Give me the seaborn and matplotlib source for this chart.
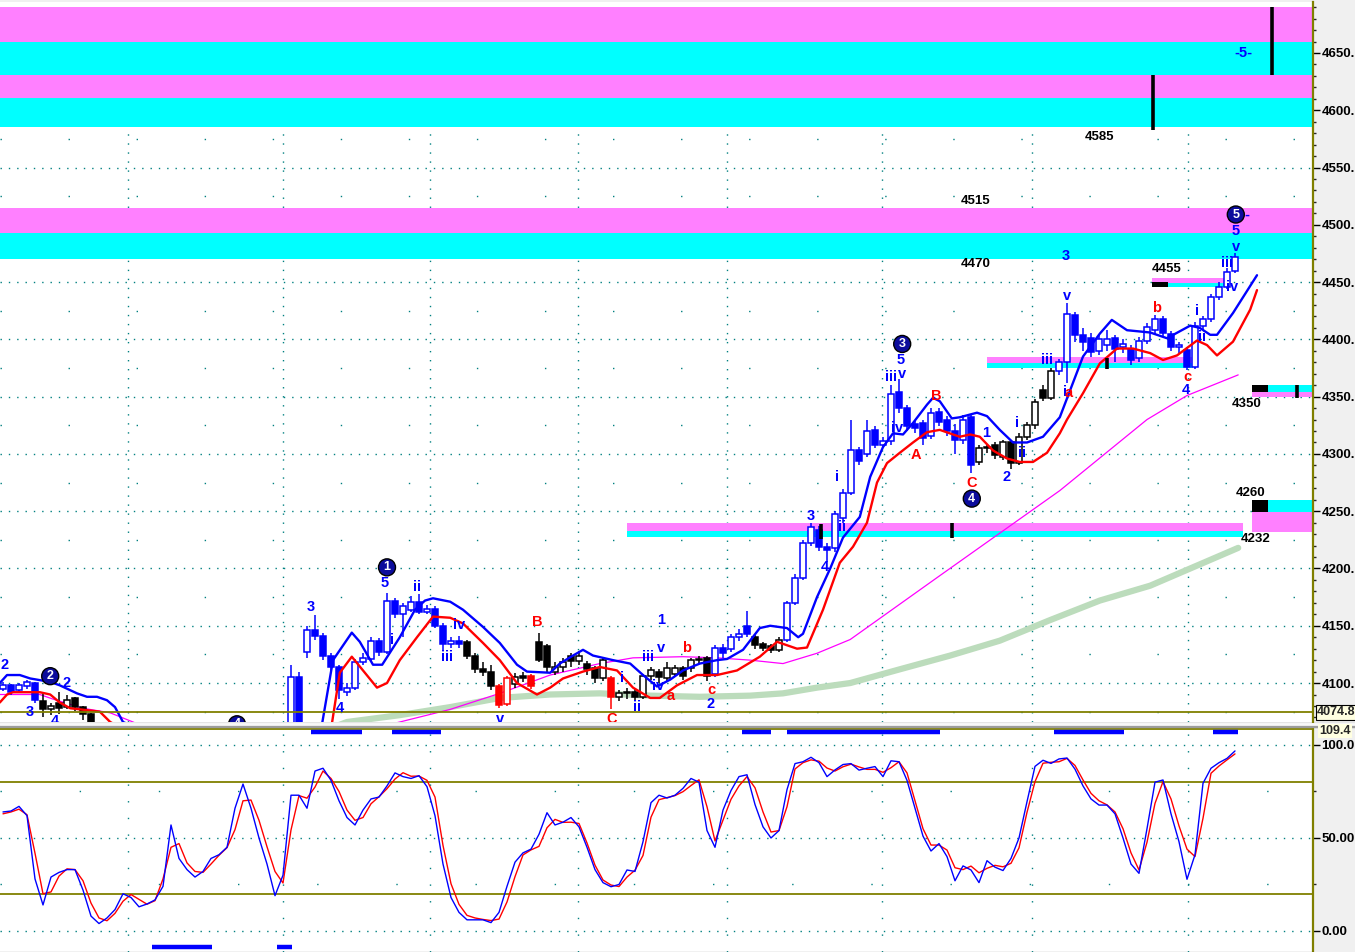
import numpy as np
import pandas as pd
import matplotlib
matplotlib.use("Agg")
import matplotlib.pyplot as plt
import seaborn as sns
from matplotlib.lines import Line2D
from matplotlib.patches import Rectangle

# ---------------- data ----------------
opens = [4095, 4098, 4094, 4097, 4100, 4084, 4077, 4083, 4079, 4087,
         4079, 4073, 4058, 4050, 4044, 4047, 4052, 4046, 4042, 4045,
         4043, 4050, 4056, 4048, 4045, 4044, 4047, 4050, 4051, 4054,
         4059, 4060, 4054, 4050, 4044, 4040, 4052, 4105, 4127, 4146,
         4141, 4124, 4114, 4092, 4096, 4118, 4121, 4137, 4127, 4172,
         4160, 4164, 4171, 4162, 4165, 4150, 4134, 4137, 4136, 4124,
         4112, 4110, 4097, 4082, 4099, 4106, 4106, 4136, 4132, 4110,
         4114, 4124, 4119, 4117, 4113, 4104, 4104, 4088, 4091, 4092,
         4088, 4106, 4110, 4104, 4108, 4113, 4113, 4120, 4122, 4108,
         4131, 4130, 4140, 4150, 4140, 4134, 4132, 4129, 4138, 4170,
         4192, 4222, 4234, 4219, 4218, 4244, 4266, 4303, 4300, 4321,
         4308, 4311, 4354, 4340, 4326, 4327, 4316, 4337, 4330, 4320,
         4312, 4332, 4293, 4305, 4308, 4297, 4310, 4292, 4315, 4325,
         4356, 4349, 4372, 4380, 4421, 4404, 4401, 4390, 4395, 4401,
         4393, 4392, 4384, 4399, 4408, 4418, 4405, 4393, 4391, 4376,
         4412, 4418, 4437, 4446, 4460]
closes = [4098, 4092, 4098, 4101, 4085, 4077, 4080, 4078, 4085, 4079,
          4073, 4066, 4050, 4044, 4047, 4052, 4046, 4042, 4045, 4043,
          4050, 4056, 4048, 4045, 4044, 4047, 4050, 4051, 4054, 4059,
          4060, 4054, 4050, 4044, 4040, 4052, 4105, 4065, 4146, 4141,
          4124, 4114, 4094, 4096, 4118, 4122, 4137, 4127, 4172, 4160,
          4167, 4171, 4162, 4165, 4150, 4134, 4137, 4134, 4124, 4112,
          4110, 4097, 4081, 4104, 4105, 4104, 4097, 4120, 4114, 4114,
          4118, 4119, 4124, 4112, 4104, 4120, 4088, 4091, 4092, 4088,
          4106, 4111, 4105, 4113, 4113, 4106, 4120, 4121, 4106, 4131,
          4126, 4140, 4143, 4143, 4133, 4131, 4129, 4138, 4170, 4192,
          4222, 4236, 4219, 4216, 4248, 4266, 4303, 4294, 4320, 4308,
          4311, 4352, 4340, 4324, 4323, 4314, 4336, 4328, 4320, 4312,
          4330, 4290, 4305, 4306, 4299, 4310, 4292, 4315, 4325, 4345,
          4349, 4372, 4380, 4422, 4404, 4398, 4389, 4400, 4400, 4392,
          4396, 4382, 4399, 4411, 4418, 4406, 4393, 4395, 4376, 4412,
          4418, 4437, 4446, 4459, 4472]
highs = [4101, 4099, 4100, 4103, 4101, 4092, 4083, 4092, 4090, 4088,
         4080, 4074, 4060, 4052, 4049, 4054, 4053, 4048, 4047, 4047,
         4052, 4058, 4057, 4050, 4047, 4049, 4052, 4053, 4056, 4061,
         4062, 4061, 4055, 4051, 4046, 4054, 4116, 4110, 4150, 4159,
         4144, 4126, 4116, 4100, 4121, 4126, 4140, 4139, 4179, 4174,
         4170, 4176, 4178, 4168, 4167, 4152, 4140, 4141, 4138, 4126,
         4118, 4116, 4099, 4106, 4109, 4110, 4108, 4144, 4134, 4118,
         4122, 4126, 4128, 4119, 4115, 4122, 4106, 4094, 4096, 4095,
         4108, 4114, 4112, 4118, 4116, 4115, 4122, 4124, 4124, 4133,
         4134, 4143, 4147, 4163, 4142, 4136, 4134, 4140, 4172, 4195,
         4225, 4240, 4237, 4222, 4250, 4269, 4330, 4306, 4330, 4324,
         4315, 4360, 4365, 4343, 4330, 4330, 4340, 4340, 4333, 4326,
         4334, 4334, 4308, 4309, 4310, 4312, 4312, 4318, 4328, 4348,
         4360, 4375, 4383, 4432, 4424, 4410, 4406, 4405, 4408, 4404,
         4400, 4395, 4402, 4414, 4421, 4420, 4407, 4398, 4393, 4415,
         4420, 4440, 4450, 4462, 4475]
lows = [4093, 4090, 4092, 4095, 4083, 4070, 4072, 4073, 4077, 4076,
        4068, 4060, 4047, 4041, 4042, 4045, 4044, 4039, 4040, 4041,
        4042, 4048, 4046, 4043, 4041, 4042, 4045, 4048, 4049, 4052,
        4056, 4052, 4047, 4041, 4036, 4038, 4050, 4060, 4122, 4138,
        4120, 4110, 4086, 4089, 4094, 4116, 4119, 4124, 4125, 4157,
        4140, 4162, 4160, 4160, 4148, 4128, 4131, 4131, 4121, 4109,
        4106, 4094, 4078, 4080, 4096, 4101, 4095, 4118, 4110, 4107,
        4110, 4114, 4116, 4107, 4100, 4102, 4077, 4084, 4086, 4085,
        4086, 4103, 4100, 4101, 4105, 4103, 4110, 4117, 4102, 4105,
        4122, 4127, 4137, 4140, 4130, 4128, 4126, 4127, 4136, 4168,
        4190, 4220, 4215, 4206, 4214, 4240, 4264, 4290, 4297, 4305,
        4305, 4308, 4336, 4320, 4318, 4308, 4313, 4324, 4316, 4300,
        4309, 4283, 4290, 4301, 4296, 4295, 4287, 4290, 4312, 4322,
        4346, 4347, 4369, 4362, 4398, 4390, 4385, 4386, 4390, 4380,
        4388, 4378, 4380, 4396, 4405, 4403, 4390, 4388, 4373, 4374,
        4408, 4415, 4434, 4444, 4458]

# wave-degree colour runs (first bar, last bar, degree)
colour_runs = [(0, 4, 'b'), (5, 35, 'k'), (36, 57, 'b'), (58, 61, 'k'), (62, 63, 'r'),
               (64, 65, 'k'), (66, 66, 'r'), (67, 75, 'k'), (76, 76, 'r'), (77, 88, 'k'),
               (89, 93, 'b'), (94, 97, 'k'), (98, 121, 'b'), (122, 131, 'k'), (132, 154, 'b')]

# moving averages (bar position, value)
ma_fast_t = [-0.4, 0.5, 2.1, 3.4, 5.9, 7.1, 9.25, 10.5, 11.75, 13, 14, 15, 19.6, 24.6, 30, 35, 38.4,
             39.9, 41.25, 43.6, 44.6, 46.25, 47.4, 49.6, 51.5, 52.75, 53.75, 55.9, 57.5, 60, 62.1,
             64.25, 65.5, 68.4, 69.6, 71.25, 72.5, 73.75, 76.25, 78.4, 80, 81.75, 83.4, 85, 87.1,
             89.25, 90.5, 92.5, 94.6, 95.9, 98, 99.4, 100, 101.75, 103.4, 105, 107.1, 108.4, 110,
             111.25, 112.5, 113.75, 115.5, 116.25, 117.1, 118.6, 119.6, 121.75, 123, 124.6, 126.25,
             128, 130, 132.1, 135, 137.1, 138.6, 140.5, 143.4, 145.5, 148.4, 149.6, 150.9, 151.75,
             153.75, 156.75]
ma_fast_v = [4100, 4107, 4107, 4104, 4101, 4098, 4091, 4088, 4088, 4085, 4079, 4066, 4052, 4048, 4050,
             4046, 4040, 4065, 4120, 4144, 4136, 4116, 4116, 4140, 4164, 4172, 4174, 4171, 4164,
             4149, 4135, 4116, 4110, 4109, 4117, 4124, 4129, 4124, 4120, 4117, 4107, 4097, 4103,
             4111, 4117, 4120, 4121, 4129, 4148, 4150, 4148, 4140, 4143, 4175, 4200, 4227, 4245,
             4280, 4306, 4318, 4317, 4327, 4343, 4349, 4346, 4331, 4332, 4336, 4333, 4321, 4310,
             4310, 4315, 4332, 4385, 4405, 4417, 4408, 4406, 4401, 4412, 4410, 4404, 4404, 4423,
             4456]
ma_slow_t = [-0.4, 0.5, 1.25, 4.6, 5.9, 7.1, 8.4, 10.9, 12.1, 13.4, 17, 24, 32, 37, 40.25, 41.1, 42.1,
             43.6, 45, 46.75, 48, 49.6, 51.75, 53.75, 55.9, 57.5, 60, 62.1, 64.25, 66.75, 68.4, 70,
             72.5, 74.6, 76.75, 78.75, 80.9, 82.1, 84.25, 86.75, 89.25, 91.75, 94.6, 96.75, 99.25,
             100.5, 102.5, 104.6, 106.25, 108, 109.25, 110.5, 112.1, 113.75, 115.5, 117.1, 118.75,
             119.6, 120.9, 122.1, 123.75, 125.5, 127.1, 128.75, 130.5, 132.1, 133, 135, 137.1,
             139.25, 141.25, 143.4, 145, 146.75, 149.25, 150.5, 151.75, 153.75, 155.9, 156.75]
ma_slow_v = [4083, 4090, 4092, 4092, 4090, 4083, 4078, 4076, 4075, 4066, 4052, 4045, 4040, 4035, 4045,
             4064, 4109, 4123, 4111, 4096, 4100, 4120, 4140, 4158, 4157, 4152, 4135, 4120, 4100,
             4090, 4096, 4104, 4110, 4114, 4111, 4096, 4087, 4087, 4098, 4107, 4107, 4111, 4123,
             4136, 4130, 4131, 4164, 4205, 4219, 4240, 4275, 4292, 4301, 4310, 4319, 4321, 4317,
             4315, 4317, 4315, 4303, 4296, 4293, 4293, 4301, 4318, 4330, 4353, 4379, 4392, 4392,
             4388, 4382, 4386, 4399, 4395, 4386, 4398, 4426, 4443]
ma_mid_t = [-0.4, 4.6, 6.25, 10, 13.4, 16.25, 20, 30, 40, 49.6, 55.9, 62.1, 68.4, 74.6, 78.75, 85,
            89.25, 93.4, 97.5, 101.75, 105.9, 116.75, 132.1, 143, 148, 154.4]
ma_mid_v = [4090, 4090, 4086, 4078, 4074, 4066, 4055, 4045, 4050, 4066, 4077, 4091, 4107, 4117, 4122,
            4123, 4122, 4120, 4117, 4126, 4138, 4192, 4268, 4330, 4351, 4369]
ma_long_t = [40, 43, 49.6, 55.9, 62.1, 68.4, 74.6, 80.9, 87.1, 93.4, 97.5, 101.75, 105.9, 112.1,
             118.4, 124.6, 130.9, 137.1, 143.4, 154.4]
ma_long_v = [4058, 4066, 4072, 4079, 4087, 4090, 4091, 4089, 4088, 4089, 4091, 4096, 4100, 4112,
             4124, 4137, 4155, 4172, 4185, 4218]
last_price = 4074.8

# stochastics
stoch_k = [64, 64.5, 67, 62, 28, 14, 29, 31.5, 33, 33,
           22, 8, 4, 7, 11.5, 20, 18, 13, 14.5, 16.7,
           24, 57, 39, 33, 29, 32, 39, 41, 45, 66,
           79, 66, 50, 36, 19, 30, 73, 73, 66, 86,
           87.5, 81, 70, 61, 57, 65, 71, 72, 78, 85,
           83, 82, 83.5, 77.6, 62, 36, 18, 10, 6, 6,
           6, 4.5, 10, 24, 37, 42, 44, 52, 63.6, 57,
           58.5, 61, 56, 45, 33, 26, 23.8, 25, 32.8, 32,
           48, 69, 73, 71.5, 73, 76.7, 82, 80, 54, 45,
           65, 75.5, 83, 84, 68, 56, 50, 54, 76, 90,
           91, 93.4, 90.5, 83, 86.6, 89.5, 90, 86.5, 87.5, 88.4,
           83, 91.5, 91, 81, 66, 51, 43, 47, 40, 27,
           35, 32.8, 26, 37.8, 34.3, 32.5, 39, 50, 69.5, 88.5,
           91.8, 90.1, 92.5, 93, 87, 78, 71, 67.7, 67.7, 63,
           50, 36, 31, 55, 80, 81.2, 63, 48, 27.8, 41,
           79.4, 87.5, 90.5, 92.8, 96.8]
stoch_d = [63, 64, 65.5, 62.5, 41.8, 20, 21, 29.5, 33.4, 33,
           27, 15, 7, 5.5, 9.5, 16, 19.6, 17, 14.4, 16.3,
           28, 45, 47, 36.6, 32, 31.5, 36, 40.7, 44.8, 54.5,
           70, 70.4, 59.5, 45.3, 32, 25.8, 54.3, 72.8, 71.4, 77.4,
           86, 82, 75, 65, 59.5, 61, 68.4, 72.2, 76.5, 81.7,
           85.1, 83.2, 83.3, 81, 72, 46, 25.4, 14.3, 8.4, 7,
           6.2, 5.6, 6.4, 15.6, 29.2, 40.9, 43.6, 45.5, 55.5, 60,
           58.4, 58.5, 57.8, 47.3, 35.4, 27.4, 24.7, 23.9, 29, 32.7,
           40.6, 61.2, 70.6, 71.7, 72.8, 74.9, 78.2, 81.3, 66.8, 48.4,
           59.6, 70.8, 78, 83, 77, 64, 53.2, 54, 66.8, 87.1,
           90.5, 92, 91.3, 87.6, 86, 88.3, 89.7, 88.2, 86.9, 86.9,
           85.3, 87.8, 91, 85, 70, 55, 46.2, 46.2, 43.5, 34,
           33, 34.9, 31.3, 33.7, 35.3, 34.5, 36.4, 44.7, 63.8, 80.3,
           90.2, 90.7, 91, 92.8, 89, 81.2, 74, 70, 67.8, 64,
           55, 42, 32.8, 47.7, 68.6, 80.3, 71, 56.5, 44, 40,
           60.6, 84.8, 88.7, 92, 95.2]
last_stoch = 109.4

# price zones (low, high, kind)
full_zones = [(4660, 4690, 'p'), (4631, 4660, 'c'), (4611, 4631, 'p'), (4585, 4611, 'c'),
              (4493, 4515, 'p'), (4470, 4493, 'c')]
# partial zones (low, high, kind, first bar, last bar)
part_zones = [(4379, 4385, 'p', 123, 148.75), (4375, 4379, 'c', 123, 148.75),
              (4449.2, 4453.6, 'p', 143.6, 153.4), (4445.7, 4449.2, 'c', 143.6, 153.4),
              (4445.7, 4450, 'k', 143.6, 145.6),
              (4232.7, 4239.7, 'p', 78, 155), (4227.5, 4232.7, 'c', 78, 155),
              (4231.8, 4249.3, 'p', 156.1, 164), (4249.3, 4259.8, 'c', 158.1, 164),
              (4249.3, 4259.8, 'k', 156.1, 158.1),
              (4349.7, 4354.1, 'p', 156.1, 164), (4354.1, 4360.2, 'c', 158.1, 164),
              (4354.1, 4360.2, 'k', 156.1, 158.1)]
# black markers (bar, low, high)
markers = [(102.2, 4226, 4239), (118.6, 4227, 4240), (138.0, 4374, 4384), (161.75, 4349, 4360),
           (158.6, 4631, 4690), (143.75, 4583, 4631)]
session_breaks = [15.6, 35, 53.4, 71.9, 90.5, 109.9, 128.6, 148.1]

wave_labels = [("2", 0.25, 4116, "b"), ("2", 7.9, 4100, "b"), ("3", 3.4, 4075, "b"), ("4", 6.5, 4067, "b"),
               ("3", 38.5, 4166, "b"), ("5", 47.75, 4187, "b"), ("ii", 51.75, 4184, "b"), ("i", 48.6, 4138, "b"),
               ("4", 42.1, 4078, "b"), ("iv", 57, 4151, "b"), ("iii", 55.5, 4123, "b"), ("B", 66.75, 4153, "r"),
               ("v", 62.1, 4069, "b"), ("C", 76.1, 4069, "r"), ("i", 77.4, 4104, "b"), ("ii", 79.25, 4079, "b"),
               ("iii", 80.6, 4123, "b"), ("v", 82.25, 4131, "b"), ("1", 82.25, 4155, "b"), ("iv", 81.9, 4097, "b"),
               ("a", 83.5, 4089, "r"), ("b", 85.5, 4131, "r"), ("c", 88.6, 4094, "r"), ("2", 88.5, 4082, "b"),
               ("3", 101, 4246, "b"), ("4", 102.75, 4201, "b"), ("i", 104.25, 4280, "b"), ("ii", 104.9, 4236, "b"),
               ("5", 112.25, 4382, "b"), ("iii", 111, 4367, "b"), ("v", 112.4, 4370, "b"), ("iv", 111.75, 4323, "b"),
               ("A", 114.1, 4299, "r"), ("B", 116.6, 4351, "r"), ("C", 121.1, 4275, "r"), ("1", 122.9, 4318, "b"),
               ("2", 125.4, 4280, "b"), ("i", 126.75, 4327, "b"), ("ii", 127.4, 4301, "b"), ("iii", 130.5, 4382, "b"),
               ("3", 132.9, 4473, "b"), ("v", 133, 4438, "b"), ("i", 132.7, 4354, "b"), ("a", 133.2, 4353, "r"),
               ("b", 144.25, 4427, "r"), ("c", 148, 4367, "r"), ("4", 147.9, 4356, "b"), ("i", 149.25, 4425, "b"),
               ("ii", 149.9, 4402, "b"), ("iii", 153, 4467, "b"), ("iv", 153.6, 4446, "b"), ("v", 154.1, 4481, "b"),
               ("5", 154.1, 4495, "b"), ("-5-", 155, 4650, "b"), ("-", 155.5, 4509, "b")]
circle_labels = [("2", 5.9, 4106), ("4", 29.25, 4064), ("1", 48, 4201), ("3", 112.4, 4396),
                 ("4", 121.1, 4261), ("5", 154.1, 4509)]
price_labels = [("4585", 137.1, 4577), ("4515", 121.6, 4521), ("4470", 121.6, 4466), ("4455", 145.4, 4461),
                ("4350", 155.4, 4344), ("4260", 156.0, 4266), ("4232", 156.6, 4226)]
signal_top = [(38.5, 44.9), (48.6, 54.75), (92.4, 96.0), (98.0, 117.1), (131.4, 140.1), (151.25, 154.4)]
signal_bottom = [(18.6, 26.1), (34.25, 36.1)]

# ---------------- style ----------------
sns.set_style("white")
plt.rcParams['font.family'] = ['Liberation Sans', 'DejaVu Sans']

BLUE, RED, MAG, TEAL, OLIVE = '#0000ff', '#ff0000', '#ff00ff', '#008080', '#808000'
PINK, CYAN = '#ff80ff', '#00ffff'
zone_col = {'p': PINK, 'c': CYAN, 'k': 'black'}
deg_col = {'b': BLUE, 'k': 'black', 'r': RED}
lab_col = {'b': BLUE, 'r': RED}

W, H = 1355, 952
fig = plt.figure(figsize=(W / 100, H / 100), dpi=100, facecolor='#f0f0f0')
ax = fig.add_axes([0, 1 - 722 / H, 1313 / W, 720 / H])
ax2 = fig.add_axes([0, 0, 1313 / W, 223 / H])
XL = (-0.375, 163.75)
for a in (ax, ax2):
    a.set_facecolor('white')
    a.set_xlim(*XL)
    a.set_xticks([])
ax.set_ylim(4066.0, 4694.5)
ax2.set_ylim(-11.3, 108.6)

# separator strip
fig.add_artist(Rectangle((0, 1 - 729 / H), 1, 7 / H, transform=fig.transFigure,
                         fc='#e4e4e4', ec='none', zorder=0))
fig.add_artist(Line2D([0, 1], [1 - 723.5 / H] * 2, transform=fig.transFigure, color='#f8f8f8', lw=2))
fig.add_artist(Line2D([0, 1], [1 - 726.5 / H] * 2, transform=fig.transFigure, color='#9c9c9c', lw=1.6))

# grids
dots = (0, (1, 5))
for lv in range(4100, 4651, 50):
    ax.axhline(lv, color=TEAL, lw=1, ls=dots, zorder=0.5)
for lv in range(4075, 4676, 50):
    ax.axhline(lv, color=TEAL, lw=1, ls=(0, (1, 48)), zorder=0.5)
for sb in session_breaks:
    ax.axvline(sb, color=TEAL, lw=1, ls=(0, (1, 5.5)), zorder=0.5)
    ax2.axvline(sb, color=TEAL, lw=1, ls=(0, (1, 11)), zorder=0.5)
for lv in (0, 50, 100):
    ax2.axhline(lv, color=TEAL, lw=1, ls=dots, zorder=0.5)
for lv in (25, 75):
    ax2.axhline(lv, color=TEAL, lw=1, ls=(0, (1, 56)), zorder=0.5)
ax2.axhline(80, color=OLIVE, lw=1.3, zorder=1)
ax2.axhline(20, color=OLIVE, lw=1.3, zorder=1)

# zones
for lo, hi, k in full_zones:
    ax.fill_between(list(XL), lo, hi, color=zone_col[k], lw=0, zorder=1)
for lo, hi, k, x0, x1 in part_zones:
    ax.fill_between([x0, x1], lo, hi, color=zone_col[k], lw=0, zorder=1.2 if k != 'k' else 1.3)

# long MAs
sns.lineplot(x=ma_long_t, y=ma_long_v, ax=ax, color='#bcdcbc', lw=4.5, zorder=2)
sns.lineplot(x=ma_mid_t, y=ma_mid_v, ax=ax, color=MAG, lw=0.9, zorder=2.2)

# candles
df = pd.DataFrame(dict(bar=np.arange(len(closes)), o=opens, h=highs, l=lows, c=closes))
cols = []
for a0, a1, d in colour_runs:
    cols += [deg_col[d]] * (a1 - a0 + 1)
df['col'] = cols
up = df.c >= df.o
ax.vlines(df.bar, df.l, df.h, colors=df.col, lw=1.1, zorder=3)
body_lo = np.minimum(df.o, df.c)
body_h = np.maximum(np.abs(df.c - df.o), 0.9)
faces = ['white' if u else c for u, c in zip(up, df.col)]
ax.bar(df.bar, body_h, bottom=body_lo, width=0.68, color=faces, edgecolor=df.col, lw=1.1, zorder=3.5)

# short MAs
sns.lineplot(x=ma_slow_t, y=ma_slow_v, ax=ax, color=RED, lw=1.7, zorder=4)
sns.lineplot(x=ma_fast_t, y=ma_fast_v, ax=ax, color=BLUE, lw=1.7, zorder=4.1)

# last price line
ax.axhline(last_price, color=OLIVE, lw=1.3, zorder=4.3)

# markers
for xb, lo, hi in markers:
    ax.vlines(xb, lo, hi, color='black', lw=2.6, zorder=4.5)

# labels
for t, xb, yv, k in wave_labels:
    ax.text(xb, yv, t, color=lab_col[k], fontsize=10.5, fontweight='bold', ha='center', va='center',
            zorder=6, clip_on=True)
for t, xb, yv in circle_labels:
    ax.text(xb, yv, t, color='white', fontsize=9, fontweight='bold', ha='center', va='center', zorder=6,
            clip_on=True, bbox=dict(boxstyle='circle,pad=0.2', fc='#0c0c9c', ec='black', lw=1))
for t, xb, yv in price_labels:
    ax.text(xb, yv, t, color='black', fontsize=9.5, fontweight='bold', ha='center', va='center', zorder=6)

# stochastics
xs = np.arange(len(stoch_k))
sns.lineplot(x=xs, y=stoch_d, ax=ax2, color=RED, lw=1.0, zorder=3)
sns.lineplot(x=xs, y=stoch_k, ax=ax2, color=BLUE, lw=1.0, zorder=3.1)
for x0, x1 in signal_top:
    ax2.hlines(107.0, x0, x1, color=BLUE, lw=3.2, zorder=4)
for x0, x1 in signal_bottom:
    ax2.hlines(-8.6, x0, x1, color=BLUE, lw=3.2, zorder=4)

# spines & axes
for a in (ax, ax2):
    a.spines['left'].set_visible(False)
    a.spines['right'].set_color(OLIVE)
    a.spines['right'].set_linewidth(1.6)
    a.yaxis.tick_right()
    a.tick_params(axis='y', which='major', direction='out', length=5, width=1, pad=1,
                  labelsize=9.5, colors='black')
    a.tick_params(axis='y', which='minor', direction='out', length=2, width=1)
ax.spines['top'].set_visible(False)
ax.spines['bottom'].set_visible(False)
ax2.spines['top'].set_color(OLIVE)
ax2.spines['top'].set_linewidth(1.3)
ax2.spines['bottom'].set_color('black')

ax.set_yticks(list(range(4100, 4651, 50)))
ax.set_yticklabels([f"{v}." for v in range(4100, 4651, 50)])
ax.set_yticks(list(range(4070, 4691, 10)), minor=True)
ax2.set_yticks([0, 50, 100])
ax2.set_yticklabels(["0.00", "50.00", "100.0"])
ax2.set_yticks([25, 75], minor=True)
for a in (ax, ax2):
    for lab in a.get_yticklabels():
        lab.set_fontweight('bold')
ax.set_ylabel('')
ax2.set_ylabel('')

# last value boxes
fig.text(1317 / W, 1 - 712 / H, f"{last_price:.1f}", fontsize=9, fontweight='bold', va='center', ha='left',
         bbox=dict(boxstyle='square,pad=0.12', fc='#ffffe1', ec='black', lw=0.8), zorder=10)
fig.text(1319 / W, 1 - 731 / H, f"{last_stoch:.1f}", fontsize=9, fontweight='bold', va='center', ha='left',
         bbox=dict(boxstyle='square,pad=0.1', fc='#ffffe1', ec='none'), zorder=9)

fig.savefig("out.png", dpi=100, facecolor=fig.get_facecolor())
